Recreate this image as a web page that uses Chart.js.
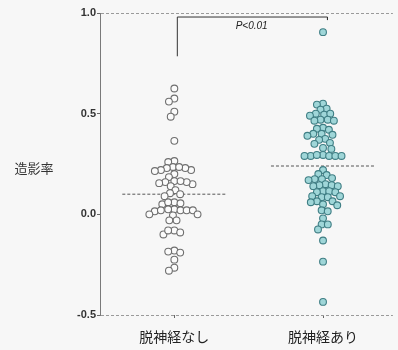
<!DOCTYPE html>
<html>
<head>
<meta charset="utf-8">
<script src="https://cdn.jsdelivr.net/npm/chart.js@4"></script>
<style>
  body { margin: 0; background: #f7f7f7; }
  #wrap { width: 398px; height: 350px; }
</style>
</head>
<body>
<div id="wrap"><canvas id="chart" width="398" height="350"></canvas></div>
<script>
// ===== Data =====
const categories = ["脱神経なし", "脱神経あり"];
const positions = [1, 2];
const yTicks = [-0.5, 0.0, 0.5, 1.0];

// 造影率, group without denervation
const withoutDenerv = [
  0.625, 0.575, 0.56, 0.51, 0.485, 0.365, 0.265, 0.26,
  0.235, 0.23, 0.22, 0.215, 0.22, 0.23, 0.235,
  0.20, 0.185,
  0.165, 0.16, 0.155, 0.15, 0.16, 0.165, 0.14,
  0.12, 0.105, 0.10, 0.09,
  0.06, 0.055, 0.05, 0.06,
  0.025, 0.02, 0.02, 0.015, 0.02, 0.02, 0.025,
  0.0, -0.005, 0.0, -0.03, -0.03,
  -0.08, -0.09, -0.10, -0.08,
  -0.18, -0.185, -0.19, -0.225,
  -0.265, -0.28
];

// 造影率, group with denervation
const withDenerv = [
  0.905,
  0.55, 0.545, 0.525, 0.52, 0.50, 0.495, 0.50, 0.49,
  0.47, 0.465, 0.47, 0.465,
  0.43, 0.425, 0.42,
  0.40, 0.395, 0.40, 0.39,
  0.375, 0.37, 0.355, 0.35, 0.33, 0.325,
  0.295, 0.29, 0.29, 0.29, 0.29, 0.29, 0.295,
  0.22, 0.2, 0.195, 0.18, 0.175, 0.175, 0.17,
  0.15, 0.145, 0.145, 0.14, 0.14, 0.115, 0.115, 0.11, 0.11,
  0.09, 0.085, 0.09, 0.085, 0.065, 0.06, 0.065,
  0.05, 0.045, 0.02, 0.015, -0.02, -0.05, -0.05, -0.075,
  -0.13, -0.235, -0.435
];

// group mean lines
const means = [0.10, 0.24];
const meanHalfWidth = 0.35;

// significance bracket
const pText = "P<0.01";
const bracketTop = 0.98;
const bracketEnds = [0.785, 0.965];

// ===== Helpers =====
const series = [withoutDenerv, withDenerv];

// simple beeswarm: place each point as near the centre as possible without overlap
function swarm(values, yScale, pxPerUnit, d) {
  const placed = [];
  const out = new Array(values.length);
  const order = values.map((v, i) => i).sort((a, b) => values[b] - values[a]);
  order.forEach(i => {
    const y = yScale.getPixelForValue(values[i]);
    const cands = [0];
    placed.forEach(p => {
      const dy = Math.abs(p.y - y);
      if (dy < d) {
        const dx = Math.sqrt(d * d - dy * dy);
        cands.push(p.x - dx, p.x + dx);
      }
    });
    cands.sort((a, b) => Math.abs(a) - Math.abs(b));
    const x = cands.find(c => placed.every(p => Math.hypot(p.x - c, p.y - y) >= d - 0.01));
    placed.push({ x, y });
    out[i] = x / pxPerUnit;
  });
  return out;
}

const bgPlugin = {
  id: "bg",
  beforeDraw(chart) {
    const { ctx } = chart;
    ctx.save();
    ctx.fillStyle = "#f7f7f7";
    ctx.fillRect(0, 0, chart.width, chart.height);
    ctx.restore();
  }
};

const textPlugin = {
  id: "texts",
  afterDraw(chart) {
    const { ctx, scales } = chart;
    ctx.save();
    // y axis title (horizontal)
    ctx.fillStyle = "#333";
    ctx.font = "13px 'Noto Sans CJK JP'";
    ctx.textAlign = "center";
    ctx.textBaseline = "middle";
    ctx.fillText("造影率", 34, scales.y.getPixelForValue(0.23));
    // p value
    const px = scales.x.getPixelForValue((positions[0] + positions[1]) / 2 + 0.02);
    ctx.font = "italic 10px 'Liberation Sans'";
    ctx.fillStyle = "#222";
    ctx.fillText(pText, px, scales.y.getPixelForValue(bracketTop) + 9);
    ctx.restore();
  }
};

// ===== Chart =====
const ctx = document.getElementById("chart");
const chart = new Chart(ctx, {
  type: "scatter",
  data: {
    datasets: [
      {
        label: categories[0],
        data: withoutDenerv.map(v => ({ x: positions[0], y: v })),
        pointRadius: 3.4,
        pointBorderWidth: 1.1,
        pointBackgroundColor: "#fbfbfb",
        pointBorderColor: "#6f6f6f",
        order: 1
      },
      {
        label: categories[1],
        data: withDenerv.map(v => ({ x: positions[1], y: v })),
        pointRadius: 3.4,
        pointBorderWidth: 1.1,
        pointBackgroundColor: "#9fd6d8",
        pointBorderColor: "#3f7e84",
        order: 1
      },
      ...means.map((m, i) => ({
        type: "line",
        data: [
          { x: positions[i] - meanHalfWidth, y: m },
          { x: positions[i] + meanHalfWidth, y: m }
        ],
        borderColor: "#555",
        borderWidth: 1,
        borderDash: [3, 2],
        pointRadius: 0,
        order: 2
      })),
      {
        type: "line",
        data: [
          { x: positions[0] + 0.02, y: bracketEnds[0] },
          { x: positions[0] + 0.02, y: bracketTop },
          { x: positions[1] + 0.03, y: bracketTop },
          { x: positions[1] + 0.03, y: bracketEnds[1] }
        ],
        borderColor: "#333",
        borderWidth: 1,
        pointRadius: 0,
        order: 2
      }
    ]
  },
  options: {
    responsive: false,
    animation: false,
    layout: { padding: { top: 13, right: 0, bottom: 0, left: 0 } },
    plugins: {
      legend: { display: false },
      tooltip: { enabled: false }
    },
    scales: {
      x: {
        type: "linear",
        min: 0.5,
        max: 2.47,
        afterBuildTicks: s => { s.ticks = positions.map(v => ({ value: v })); },
        afterFit: s => { s.height = 35; },
        ticks: {
          callback: v => categories[positions.indexOf(v)],
          color: "#222",
          font: { family: "'Noto Sans CJK JP'", size: 14 },
          padding: 10,
          maxRotation: 0
        },
        grid: { drawOnChartArea: false, tickLength: 3, color: "#666" },
        border: { display: false }
      },
      y: {
        min: -0.5,
        max: 1.0,
        afterBuildTicks: s => { s.ticks = yTicks.map(v => ({ value: v })); },
        afterFit: s => { s.width = 100; },
        ticks: {
          callback: v => v.toFixed(1),
          color: "#333",
          font: { family: "'Liberation Sans'", size: 11, weight: "bold" },
          padding: 1
        },
        grid: {
          color: c => (c.tick && (c.tick.value === 1 || c.tick.value === -0.5)) ? "#9a9a9a" : "rgba(0,0,0,0)",
          tickColor: "#666",
          tickLength: 3
        },
        border: { display: true, color: "#7a7a7a", dash: [3, 2] }
      }
    }
  },
  plugins: [bgPlugin, textPlugin]
});

// lay out the swarm once the scales are known
const xs = chart.scales.x;
const pxPerUnit = xs.getPixelForValue(2) - xs.getPixelForValue(1);
series.forEach((vals, i) => {
  const offs = swarm(vals, chart.scales.y, pxPerUnit, 6.2);
  chart.data.datasets[i].data = vals.map((v, j) => ({ x: positions[i] + offs[j], y: v }));
});
chart.update();
</script>
</body>
</html>
